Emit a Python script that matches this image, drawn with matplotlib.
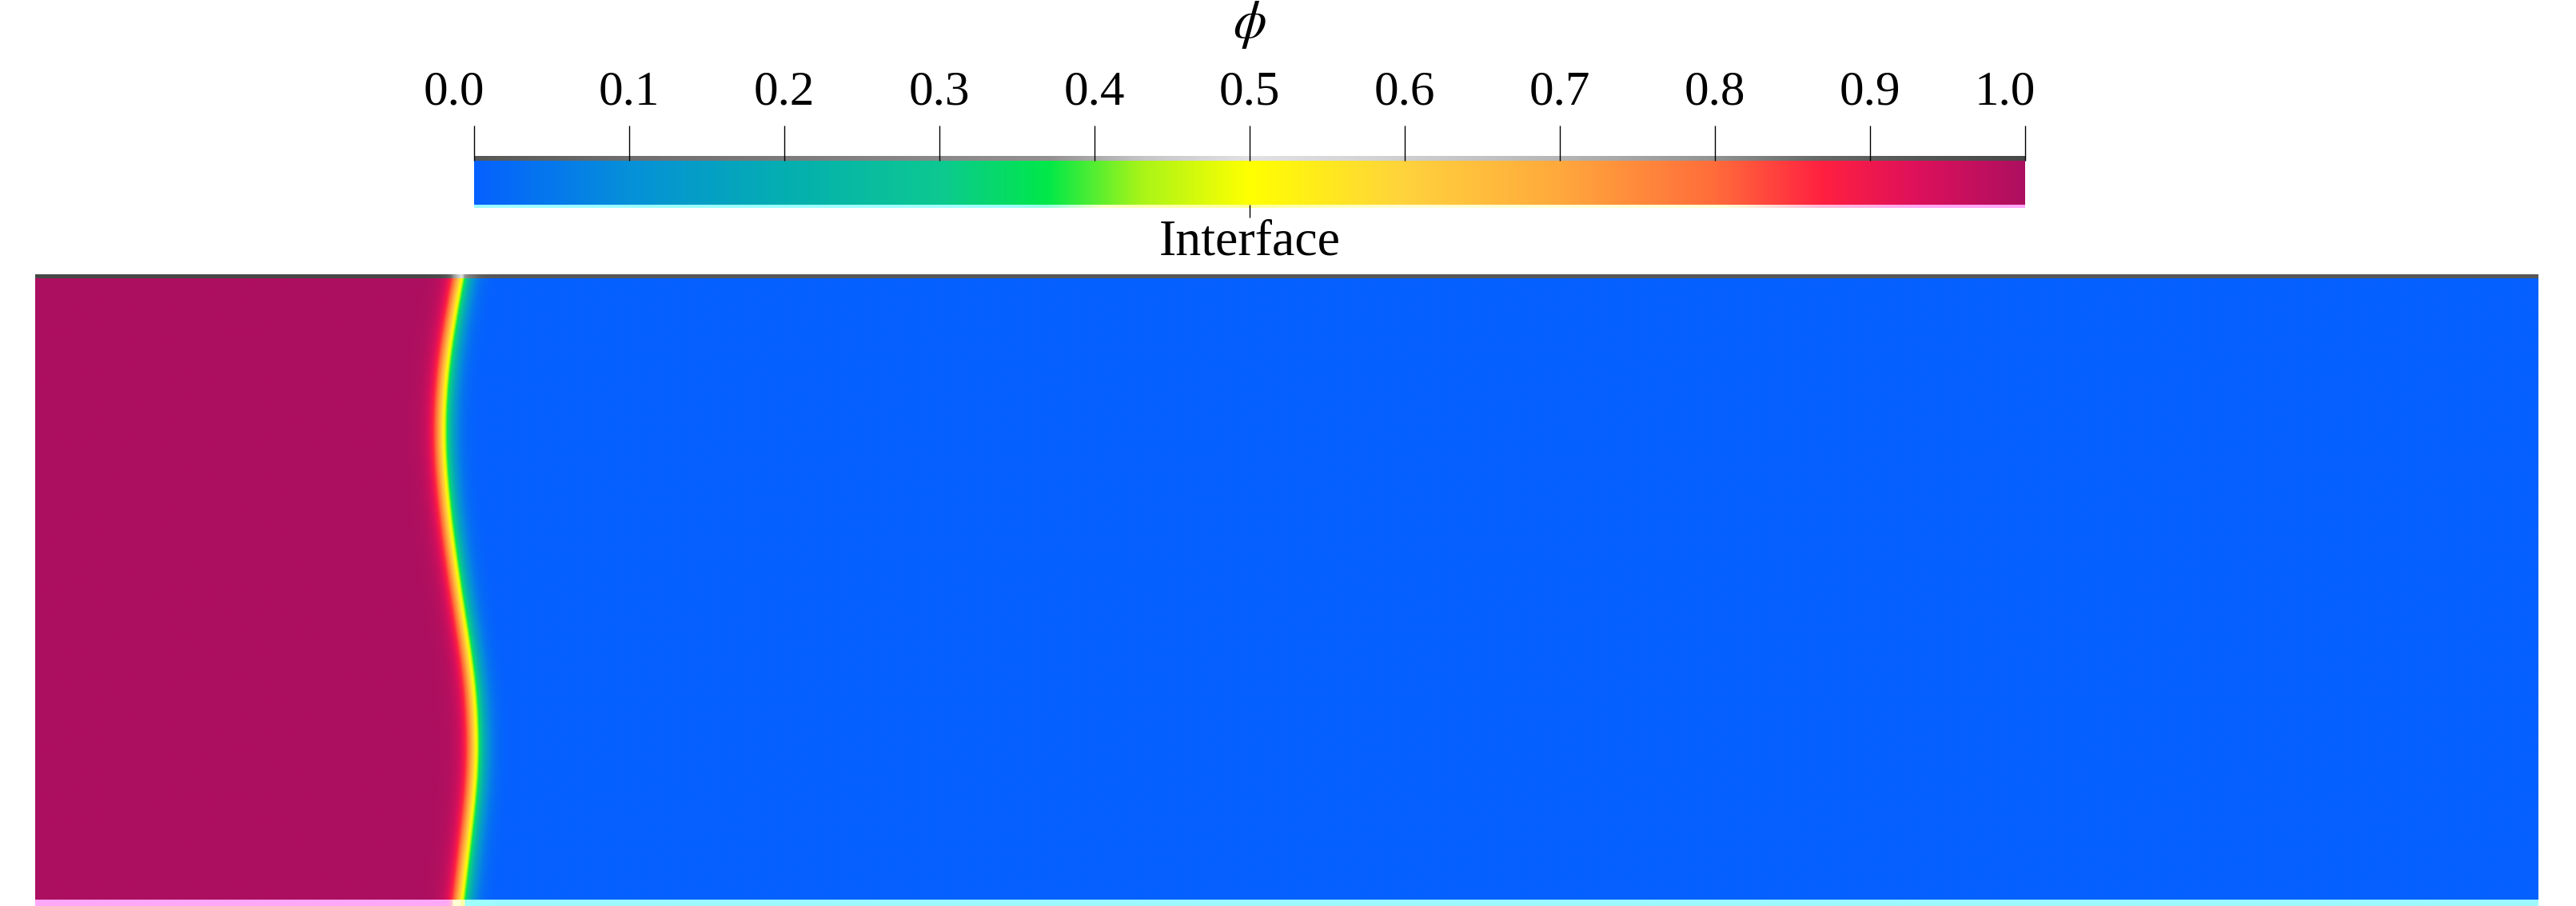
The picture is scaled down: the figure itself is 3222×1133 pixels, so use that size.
import numpy as np
import matplotlib
matplotlib.use("Agg")
import matplotlib.pyplot as plt
import matplotlib.transforms as mtransforms
from matplotlib.colors import LinearSegmentedColormap, ListedColormap, Normalize
from matplotlib.cm import ScalarMappable

plt.rcParams['font.family'] = ['Liberation Serif', 'DejaVu Serif']
plt.rcParams['mathtext.fontset'] = 'stix'

# ==== data ====
# colour stops of the phi colour bar
cmap_pos = [0.0, 0.1, 0.2, 0.3, 0.37, 0.43, 0.5, 0.6, 0.7, 0.8, 0.87, 0.93, 1.0]
cmap_hex = ['#0560ff', '#0590d8', '#04aeb0', '#0cc890', '#00e848', '#a8f418', '#ffff00',
            '#ffd23c', '#ffa83c', '#ff6c3a', '#ff2040', '#de105a', '#ad0f60']

# interface (phi = 0.5) position at some heights, y measured from the bottom
iface_y = [0.0, 0.109, 0.219, 0.347, 0.476, 0.605, 0.734, 0.849, 0.978, 1.0]
iface_x = [0.687, 0.700, 0.712, 0.707, 0.686, 0.667, 0.655, 0.660, 0.681, 0.686]
iface_width = 0.019
Lx, Ly = 4.03, 1.0

tick_vals = [0.0, 0.1, 0.2, 0.3, 0.4, 0.5, 0.6, 0.7, 0.8, 0.9, 1.0]
tick_labels = ['0.0', '0.1', '0.2', '0.3', '0.4', '0.5', '0.6', '0.7', '0.8', '0.9', '1.0']

W, H = 3222, 1133


def px_box(x0, y0, x1, y1):
    # pixel box (from top-left) -> figure fraction
    return [x0 / W, 1 - y1 / H, (x1 - x0) / W, (y1 - y0) / H]


# ==== colormaps ====
cmap = LinearSegmentedColormap.from_list('phi', list(zip(cmap_pos, cmap_hex)), N=512)
rgb = cmap(np.linspace(0, 1, 512))[:, :3]
luma = rgb @ np.array([0.299, 0.587, 0.114])
top_cmap = ListedColormap(np.column_stack([luma, luma, luma]))   # shaded top face
bot_cmap = ListedColormap(np.clip(rgb + 0.6, 0, 1))              # lit bottom face

# ==== phase field ====
nx, ny = 2400, 600
x = np.linspace(0, Lx, nx)
y = np.linspace(0, Ly, ny)
X, Y = np.meshgrid(x, y)
xi = np.interp(y, iface_y, iface_x)
# smooth the piecewise-linear trace so the interface has no kinks
k = np.exp(-0.5 * (np.arange(-90, 91) / 30.0) ** 2)
k /= k.sum()
xi = np.convolve(np.pad(xi, 90, mode='reflect', reflect_type='odd'), k, mode='valid')
phi = 0.5 * (1 - np.tanh((X - xi[:, None]) / iface_width))

fig = plt.figure(figsize=(W / 100, H / 100), dpi=100)

ax_t = fig.add_axes(px_box(44, 343, 3175, 348))
ax_t.imshow(phi[-1:, :], aspect='auto', cmap=top_cmap, vmin=0, vmax=1, extent=[0, Lx, 0, 1])
ax_t.set_axis_off()

ax_b = fig.add_axes(px_box(44, 1125, 3175, 1133))
ax_b.imshow(phi[:1, :], aspect='auto', cmap=bot_cmap, vmin=0, vmax=1, extent=[0, Lx, 0, 1])
ax_b.set_axis_off()

ax = fig.add_axes(px_box(44, 348, 3175, 1125))
ax.imshow(phi, origin='lower', extent=[0, Lx, 0, Ly], aspect='auto', cmap=cmap,
          vmin=0, vmax=1, interpolation='bilinear')
ax.set_axis_off()

# ==== colour bar ====
ramp = np.linspace(0, 1, 512)[None, :]
cb_t = fig.add_axes(px_box(593, 195, 2533, 201))
cb_t.imshow(ramp, aspect='auto', cmap=top_cmap, vmin=0, vmax=1, extent=[0, 1, 0, 1])
cb_t.set_axis_off()
cb_b = fig.add_axes(px_box(593, 256, 2533, 260))
cb_b.imshow(ramp, aspect='auto', cmap=bot_cmap, vmin=0, vmax=1, extent=[0, 1, 0, 1])
cb_b.set_axis_off()

cax = fig.add_axes(px_box(593, 201, 2533, 256))
cb = fig.colorbar(ScalarMappable(Normalize(0, 1), cmap), cax=cax, orientation='horizontal',
                  ticks=tick_vals)
cb.outline.set_visible(False)
cax.xaxis.set_ticks_position('top')
cax.xaxis.set_label_position('top')
cax.set_xticklabels(tick_labels)
cax.tick_params(axis='x', length=44 * 0.72, width=1.0, pad=10, labelsize=44, color='black')

# the end labels sit a little left of their ticks in the original
shift = mtransforms.ScaledTranslation(-25 / 100, 0, fig.dpi_scale_trans)
labs = cax.get_xticklabels(which='major')
for lab in (labs[0], labs[-1]):
    lab.set_transform(lab.get_transform() + shift)

sec = cax.secondary_xaxis('bottom')
sec.set_xticks([0.5], labels=['Interface'])
sec.tick_params(length=16 * 0.72, width=1.0, labelsize=46, pad=2)
sec.spines['bottom'].set_visible(False)

fig.text(1563 / W, 1 - 31 / H, r'$\phi$', ha='center', va='center', fontsize=48)

fig.savefig('out.png', dpi=100)
